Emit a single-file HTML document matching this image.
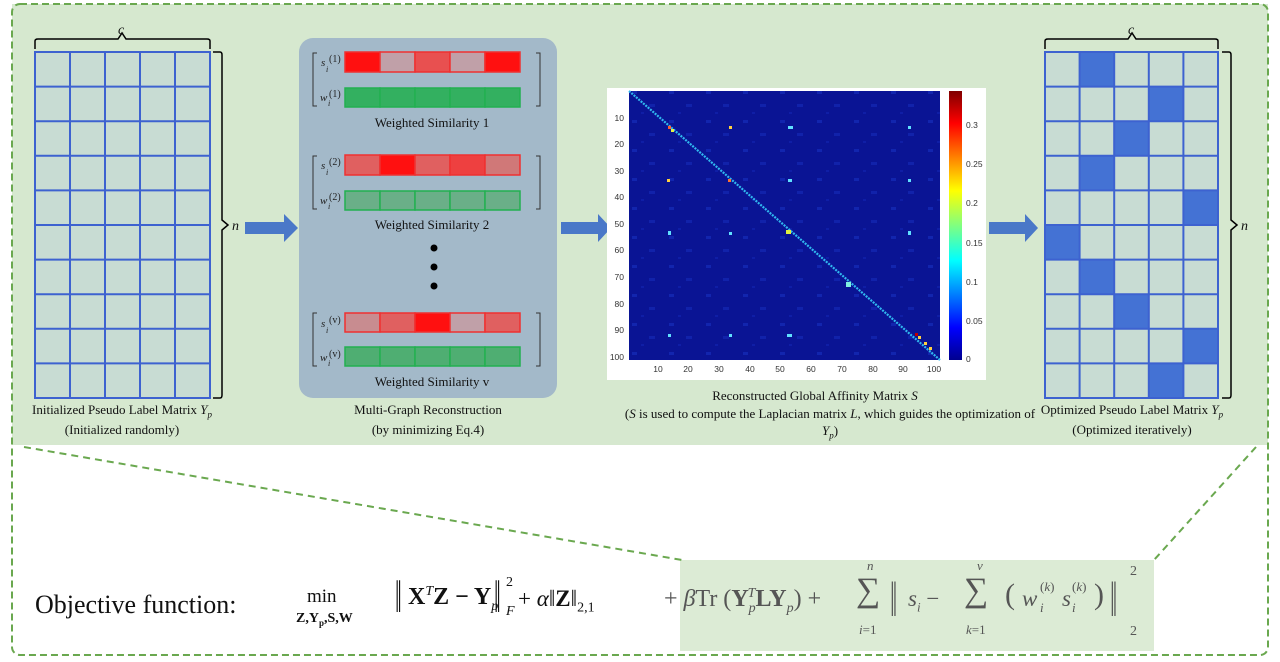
<!DOCTYPE html><html><head><meta charset="utf-8"><style>
body{margin:0;width:1280px;height:662px;background:#fff;position:relative;overflow:hidden;font-family:"Liberation Serif",serif;}
.a{position:absolute}
.cap{position:absolute;font-size:13px;color:#111;text-align:center;white-space:nowrap;transform:translateX(-50%)}
.f{position:absolute;font-size:23px;color:#111;white-space:nowrap;font-family:"Liberation Serif",serif}
.g{color:#555}
.tb{transform:scaleY(1.9);transform-origin:0 50%}
</style></head><body>
<svg class="a" style="left:0;top:0" width="1280" height="662">
<rect x="12" y="4" width="1256" height="441" fill="#d6e8cf"/>
<rect x="680" y="560" width="474" height="91" fill="#dcebd5"/>
<rect x="12" y="4" width="1256" height="651" rx="8" fill="none" stroke="#6aa84f" stroke-width="2" stroke-dasharray="7,4"/>
<line x1="24" y1="447" x2="682" y2="560" stroke="#6aa84f" stroke-width="2" stroke-dasharray="7,5"/>
<line x1="1256" y1="447" x2="1154" y2="560" stroke="#6aa84f" stroke-width="2" stroke-dasharray="7,5"/>
<rect x="35" y="52" width="175" height="346" fill="#c8dcd3" stroke="#3d62d0" stroke-width="2"/>
<g stroke="#3d62d0" stroke-width="2">
<line x1="70" y1="52" x2="70" y2="398"/><line x1="105" y1="52" x2="105" y2="398"/><line x1="140" y1="52" x2="140" y2="398"/><line x1="175" y1="52" x2="175" y2="398"/>
<line x1="35" y1="86.6" x2="210" y2="86.6"/><line x1="35" y1="121.2" x2="210" y2="121.2"/><line x1="35" y1="155.8" x2="210" y2="155.8"/><line x1="35" y1="190.4" x2="210" y2="190.4"/><line x1="35" y1="225" x2="210" y2="225"/><line x1="35" y1="259.6" x2="210" y2="259.6"/><line x1="35" y1="294.2" x2="210" y2="294.2"/><line x1="35" y1="328.8" x2="210" y2="328.8"/><line x1="35" y1="363.4" x2="210" y2="363.4"/>
</g>
<path d="M35 49 V41 Q35 39 38 39 H118 L122 33 L126 39 H207 Q210 39 210 41 V49" fill="none" stroke="#000" stroke-width="1.5"/>
<path d="M213 52 H220 Q222 52 222 55 V220 L228 225 L222 230 V395 Q222 398 220 398 H213" fill="none" stroke="#000" stroke-width="1.5"/>
<rect x="1045" y="52" width="173" height="346" fill="#c8dcd3"/>
<g fill="#4472d4">
<rect x="1079.6" y="52" width="34.6" height="34.6"/><rect x="1148.8" y="86.6" width="34.6" height="34.6"/><rect x="1114.2" y="121.2" width="34.6" height="34.6"/><rect x="1079.6" y="155.8" width="34.6" height="34.6"/><rect x="1183.4" y="190.4" width="34.6" height="34.6"/><rect x="1045" y="225" width="34.6" height="34.6"/><rect x="1079.6" y="259.6" width="34.6" height="34.6"/><rect x="1114.2" y="294.2" width="34.6" height="34.6"/><rect x="1183.4" y="328.8" width="34.6" height="34.6"/><rect x="1148.8" y="363.4" width="34.6" height="34.6"/>
</g>
<g stroke="#3d62d0" stroke-width="2" fill="none">
<rect x="1045" y="52" width="173" height="346"/>
<line x1="1079.6" y1="52" x2="1079.6" y2="398"/><line x1="1114.2" y1="52" x2="1114.2" y2="398"/><line x1="1148.8" y1="52" x2="1148.8" y2="398"/><line x1="1183.4" y1="52" x2="1183.4" y2="398"/>
<line x1="1045" y1="86.6" x2="1218" y2="86.6"/><line x1="1045" y1="121.2" x2="1218" y2="121.2"/><line x1="1045" y1="155.8" x2="1218" y2="155.8"/><line x1="1045" y1="190.4" x2="1218" y2="190.4"/><line x1="1045" y1="225" x2="1218" y2="225"/><line x1="1045" y1="259.6" x2="1218" y2="259.6"/><line x1="1045" y1="294.2" x2="1218" y2="294.2"/><line x1="1045" y1="328.8" x2="1218" y2="328.8"/><line x1="1045" y1="363.4" x2="1218" y2="363.4"/>
</g>
<path d="M1045 49 V41 Q1045 39 1048 39 H1128 L1132 33 L1136 39 H1215 Q1218 39 1218 41 V49" fill="none" stroke="#000" stroke-width="1.5"/>
<path d="M1222 52 H1229 Q1231 52 1231 55 V220 L1237 225 L1231 230 V395 Q1231 398 1229 398 H1222" fill="none" stroke="#000" stroke-width="1.5"/>
<g fill="#4a78c8">
<path d="M245 222 H284 V214 L298 228 L284 242 V234 H245Z"/>
<path d="M561 222 H598 V214 L611 228 L598 242 V234 H561Z"/>
<path d="M989 222 H1025 V214 L1038 228 L1025 242 V234 H989Z"/>
</g>
<rect x="299" y="38" width="258" height="360" rx="14" fill="#a3b9c9"/>
<g stroke="#ef3030" stroke-width="1.5">
<rect x="345" y="52" width="35" height="20" fill="#ff1010"/><rect x="380" y="52" width="35" height="20" fill="#c0a0a8"/><rect x="415" y="52" width="35" height="20" fill="#e85050"/><rect x="450" y="52" width="35" height="20" fill="#c0a0a8"/><rect x="485" y="52" width="35" height="20" fill="#ff1010"/>
<rect x="345" y="155" width="35" height="20" fill="#e06060"/><rect x="380" y="155" width="35" height="20" fill="#ff1010"/><rect x="415" y="155" width="35" height="20" fill="#e06060"/><rect x="450" y="155" width="35" height="20" fill="#ee4040"/><rect x="485" y="155" width="35" height="20" fill="#d07878"/>
<rect x="345" y="313" width="35" height="19" fill="#c88c90"/><rect x="380" y="313" width="35" height="19" fill="#e06060"/><rect x="415" y="313" width="35" height="19" fill="#ff1010"/><rect x="450" y="313" width="35" height="19" fill="#c0a0a8"/><rect x="485" y="313" width="35" height="19" fill="#e06060"/>
</g>
<g stroke="#22b050" stroke-width="1.5">
<rect x="345" y="88" width="35" height="19" fill="#33b060"/><rect x="380" y="88" width="35" height="19" fill="#33b060"/><rect x="415" y="88" width="35" height="19" fill="#33b060"/><rect x="450" y="88" width="35" height="19" fill="#33b060"/><rect x="485" y="88" width="35" height="19" fill="#33b060"/>
<rect x="345" y="191" width="35" height="19" fill="#6aaf88"/><rect x="380" y="191" width="35" height="19" fill="#6aaf88"/><rect x="415" y="191" width="35" height="19" fill="#6aaf88"/><rect x="450" y="191" width="35" height="19" fill="#6aaf88"/><rect x="485" y="191" width="35" height="19" fill="#6aaf88"/>
<rect x="345" y="347" width="35" height="19" fill="#4fae72"/><rect x="380" y="347" width="35" height="19" fill="#4fae72"/><rect x="415" y="347" width="35" height="19" fill="#4fae72"/><rect x="450" y="347" width="35" height="19" fill="#4fae72"/><rect x="485" y="347" width="35" height="19" fill="#4fae72"/>
</g>
<g fill="none" stroke="#333" stroke-width="1">
<path d="M317 53 H313 V106 H317"/><path d="M536 53 H540 V106 H536"/>
<path d="M317 156 H313 V209 H317"/><path d="M536 156 H540 V209 H536"/>
<path d="M317 313 H313 V366 H317"/><path d="M536 313 H540 V366 H536"/>
</g>
<g fill="#000"><circle cx="434" cy="248" r="3.5"/><circle cx="434" cy="267" r="3.5"/><circle cx="434" cy="286" r="3.5"/></g>
<g font-family="Liberation Serif,serif" font-style="italic" font-size="11" fill="#222">
<text x="321" y="66">s</text><text x="326" y="72" font-size="8">i</text><text x="329" y="62" font-size="10" font-style="normal">(1)</text>
<text x="320" y="101">w</text><text x="328" y="106" font-size="8">i</text><text x="329" y="97" font-size="10" font-style="normal">(1)</text>
<text x="321" y="169">s</text><text x="326" y="175" font-size="8">i</text><text x="329" y="165" font-size="10" font-style="normal">(2)</text>
<text x="320" y="204">w</text><text x="328" y="209" font-size="8">i</text><text x="329" y="200" font-size="10" font-style="normal">(2)</text>
<text x="321" y="327">s</text><text x="326" y="333" font-size="8">i</text><text x="329" y="323" font-size="10" font-style="normal">(v)</text>
<text x="320" y="361">w</text><text x="328" y="366" font-size="8">i</text><text x="329" y="357" font-size="10" font-style="normal">(v)</text>
</g>
<g font-family="Liberation Serif,serif" font-size="13" fill="#111" text-anchor="middle">
<text x="432" y="127">Weighted Similarity 1</text><text x="432" y="229">Weighted Similarity 2</text><text x="432" y="386">Weighted Similarity v</text>
</g>
<rect x="607" y="88" width="379" height="292" fill="#fff"/>
<defs><linearGradient id="jet" x1="0" y1="1" x2="0" y2="0">
<stop offset="0" stop-color="#00008f"/><stop offset="0.12" stop-color="#0000ff"/><stop offset="0.37" stop-color="#00ffff"/><stop offset="0.5" stop-color="#80ff80"/><stop offset="0.63" stop-color="#ffff00"/><stop offset="0.88" stop-color="#ff0000"/><stop offset="1" stop-color="#800000"/></linearGradient>
<pattern id="tex" width="37" height="29" patternUnits="userSpaceOnUse"><rect x="3" y="4" width="5" height="3" fill="#1a36c8"/><rect x="20" y="17" width="6" height="3" fill="#1830c0"/><rect x="12" y="25" width="3" height="2" fill="#1428b8"/></pattern></defs>
<rect x="629" y="91" width="311" height="269" fill="#0a1494"/>
<rect x="629" y="91" width="311" height="269" fill="url(#tex)" opacity="0.5"/>
<line x1="629" y1="91" x2="940" y2="360" stroke="#30b8f0" stroke-width="2.2" stroke-dasharray="2,1.1"/>
<g>
<rect x="668" y="126" width="3" height="3" fill="#ff6030"/><rect x="671" y="129" width="3" height="3" fill="#e8f040"/>
<rect x="729" y="126" width="3" height="3" fill="#ffd040"/><rect x="667" y="179" width="3" height="3" fill="#ffd040"/><rect x="728" y="179" width="3" height="3" fill="#ff7030"/>
<rect x="788" y="126" width="5" height="3" fill="#60e0ff"/><rect x="788" y="179" width="4" height="3" fill="#60e0ff"/><rect x="668" y="231" width="3" height="4" fill="#60e0ff"/><rect x="729" y="232" width="3" height="3" fill="#60e0ff"/><rect x="786" y="230" width="5" height="4" fill="#e0f040"/>
<rect x="846" y="282" width="5" height="5" fill="#80f0e0"/><rect x="908" y="126" width="3" height="3" fill="#60e0ff"/><rect x="908" y="179" width="3" height="3" fill="#60e0ff"/><rect x="908" y="231" width="3" height="4" fill="#60e0ff"/>
<rect x="668" y="334" width="3" height="3" fill="#60e0ff"/><rect x="729" y="334" width="3" height="3" fill="#60e0ff"/><rect x="787" y="334" width="5" height="3" fill="#60e0ff"/>
<rect x="915" y="333" width="3" height="3" fill="#c00000"/><rect x="918" y="336" width="3" height="3" fill="#ffd040"/><rect x="924" y="342" width="3" height="3" fill="#ffd040"/><rect x="929" y="347" width="3" height="3" fill="#ffd040"/>
</g>
<rect x="949" y="91" width="13" height="269" fill="url(#jet)"/>
<g font-family="Liberation Sans,sans-serif" font-size="8.5" fill="#333">
<g text-anchor="end"><text x="624" y="121">10</text><text x="624" y="147">20</text><text x="624" y="174">30</text><text x="624" y="200">40</text><text x="624" y="227">50</text><text x="624" y="253">60</text><text x="624" y="280">70</text><text x="624" y="307">80</text><text x="624" y="333">90</text><text x="624" y="360">100</text></g>
<g text-anchor="middle"><text x="658" y="372">10</text><text x="688" y="372">20</text><text x="719" y="372">30</text><text x="750" y="372">40</text><text x="780" y="372">50</text><text x="811" y="372">60</text><text x="842" y="372">70</text><text x="873" y="372">80</text><text x="903" y="372">90</text><text x="934" y="372">100</text></g>
<g><text x="966" y="128">0.3</text><text x="966" y="167">0.25</text><text x="966" y="206">0.2</text><text x="966" y="246">0.15</text><text x="966" y="285">0.1</text><text x="966" y="324">0.05</text><text x="966" y="362">0</text></g>
</g>
<g font-family="Liberation Serif,serif" font-style="italic" font-size="14" fill="#111">
<text x="118" y="34">c</text><text x="1128" y="34">c</text><text x="232" y="230">n</text><text x="1241" y="230">n</text>
</g>
</svg>
<div class="cap" style="left:122px;top:402px">Initialized Pseudo Label Matrix <i>Y<sub style="font-size:9px">p</sub></i></div>
<div class="cap" style="left:122px;top:422px">(Initialized randomly)</div>
<div class="cap" style="left:428px;top:402px">Multi-Graph Reconstruction</div>
<div class="cap" style="left:428px;top:422px">(by minimizing Eq.4)</div>
<div class="cap" style="left:815px;top:388px">Reconstructed Global Affinity Matrix <i>S</i></div>
<div class="cap" style="left:830px;top:406px">(<i>S</i> is used to compute the Laplacian matrix <i>L</i>, which guides the optimization of</div>
<div class="cap" style="left:830px;top:423px"><i>Y<sub style="font-size:9px">p</sub></i>)</div>
<div class="cap" style="left:1132px;top:402px">Optimized Pseudo Label Matrix <i>Y<sub style="font-size:9px">p</sub></i></div>
<div class="cap" style="left:1132px;top:422px">(Optimized iteratively)</div>
<div class="f" style="left:35px;top:590px;font-size:26px">Objective function:</div>
<div class="f" style="left:307px;top:586px;font-size:19px">min</div>
<div class="f" style="left:296px;top:611px;font-size:14px;font-weight:bold">Z,Y<sub style="font-size:9px">p</sub>,S,W</div>
<div class="f tb" style="left:395px;top:586px;font-size:24px">‖</div>
<div class="f" style="left:408px;top:584px;font-size:24px;font-weight:bold">X<sup style="font-size:14px;font-style:italic;font-weight:normal">T</sup>Z − Y<sub style="font-size:14px;font-style:italic;font-weight:normal">p</sub></div>
<div class="f tb" style="left:494px;top:586px;font-size:24px">‖</div>
<div class="f" style="left:506px;top:575px;font-size:14px">2</div><div class="f" style="left:506px;top:604px;font-size:14px;font-style:italic">F</div>
<div class="f" style="left:518px;top:586px">+ <i>α</i>‖<b>Z</b>‖<sub style="font-size:14px">2,1</sub></div>
<div class="f g" style="left:664px;top:586px;font-size:24px">+ <i>β</i>Tr (<b>Y</b><sub style="font-size:14px"><i>p</i></sub><sup style="font-size:14px;margin-left:-8px"><i>T</i></sup><b>LY</b><sub style="font-size:14px"><i>p</i></sub>) +</div>
<div class="f g" style="left:856px;top:572px;font-size:34px">∑</div>
<div class="f g" style="left:867px;top:558px;font-size:13px"><i>n</i></div>
<div class="f g" style="left:859px;top:622px;font-size:13px"><i>i</i>=1</div>
<div class="f g tb" style="left:890px;top:586px;font-size:26px">‖</div>
<div class="f g" style="left:908px;top:586px"><i>s<sub style="font-size:13px">i</sub></i> −</div>
<div class="f g" style="left:964px;top:572px;font-size:34px">∑</div>
<div class="f g" style="left:977px;top:558px;font-size:13px"><i>v</i></div>
<div class="f g" style="left:966px;top:622px;font-size:13px"><i>k</i>=1</div>
<div class="f g" style="left:1005px;top:578px;font-size:30px">(</div>
<div class="f g" style="left:1022px;top:586px"><i>w</i></div>
<div class="f g" style="left:1040px;top:579px;font-size:13px">(<i>k</i>)</div><div class="f g" style="left:1040px;top:600px;font-size:13px"><i>i</i></div>
<div class="f g" style="left:1062px;top:586px"><i>s</i></div>
<div class="f g" style="left:1072px;top:579px;font-size:13px">(<i>k</i>)</div><div class="f g" style="left:1072px;top:600px;font-size:13px"><i>i</i></div>
<div class="f g" style="left:1094px;top:578px;font-size:30px">)</div>
<div class="f g tb" style="left:1110px;top:586px;font-size:26px">‖</div>
<div class="f g" style="left:1130px;top:564px;font-size:14px">2</div>
<div class="f g" style="left:1130px;top:624px;font-size:14px">2</div>
</body></html>
